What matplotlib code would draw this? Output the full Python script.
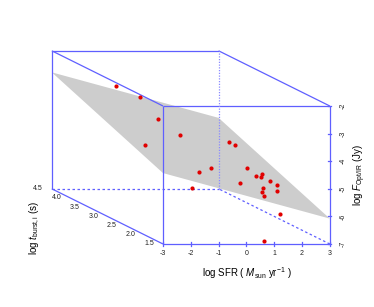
import numpy as np
import matplotlib.pyplot as plt

plt.rcParams['font.family'] = ['Liberation Sans', 'DejaVu Sans']
plt.rcParams['mathtext.fontset'] = 'custom'
plt.rcParams['mathtext.rm'] = 'Liberation Sans'
plt.rcParams['mathtext.it'] = 'Liberation Sans:italic'

# data points: log SFR, log t_burst,i, log F
log_sfr = [-1.09, -0.37, -0.11, -2.30, 0.01, -1.05, -0.21, 2.17, 2.26, 1.62, -1.84, 0.45,
           1.69, 2.03, 1.71, 2.04, 2.18, 1.26, 1.08, 1.76, 0.91, 1.47, 0.76]
log_tburst = [4.2, 4.1, 3.8, 2.5, 3.3, 2.0, 2.3, 3.6, 3.5, 2.7, 1.6, 2.0,
              2.5, 2.6, 2.4, 2.4, 2.3, 2.0, 1.9, 2.0, 1.7, 1.7, 1.6]
log_flux = [-3.06, -3.42, -3.99, -4.09, -4.26, -4.71, -4.78, -4.70, -4.74, -5.05, -5.03, -5.11,
            -5.19, -5.20, -5.18, -5.33, -5.41, -5.30, -5.37, -5.42, -5.41, -6.04, -6.97]

# fitted plane: z = a + b*x + c*y
plane_coef = [-6.08, -0.275, 0.55]

x_ticks = [-3, -2, -1, 0, 1, 2, 3]
y_ticks = [1.5, 2.0, 2.5, 3.0, 3.5, 4.0, 4.5]
z_ticks = [-7, -6, -5, -4, -3, -2]

xmin, xmax = -3, 3
ymin, ymax = 1.5, 4.5
zmin, zmax = -7, -2

box_col = '#5f5fff'


def proj(x, y, z):
    # oblique projection like scatterplot3d
    d = np.asarray(y, dtype=float) - ymin
    return np.asarray(x, dtype=float) - d * 4 / 3, np.asarray(z, dtype=float) + d * 2 / 3


def edge(p0, p1, ls='-', lw=0.9, col=box_col):
    u, v = proj([p0[0], p1[0]], [p0[1], p1[1]], [p0[2], p1[2]])
    ax.plot(u, v, color=col, lw=lw, ls=ls, zorder=3, solid_capstyle='butt')


fig = plt.figure(figsize=(3.74, 3.07), dpi=100)
ax = fig.add_axes([0, 0, 1, 1])
ax.set_xlim(-8.863, 4.590)
ax.set_ylim(-9.283, 1.841)
ax.axis('off')

# regression plane
a, b, c = plane_coef
px = [xmin, xmax, xmax, xmin]
py = [ymin, ymin, ymax, ymax]
pz = [a + b * xx + c * yy for xx, yy in zip(px, py)]
pu, pv = proj(px, py, pz)
ax.fill(pu, pv, color='#cdcdcd', lw=0, zorder=1)

# box
edge((xmin, ymin, zmin), (xmax, ymin, zmin))
edge((xmax, ymin, zmin), (xmax, ymin, zmax))
edge((xmin, ymin, zmax), (xmax, ymin, zmax))
edge((xmin, ymin, zmin), (xmin, ymin, zmax))
edge((xmin, ymax, zmax), (xmax, ymax, zmax))
edge((xmin, ymax, zmin), (xmin, ymax, zmax))
edge((xmin, ymin, zmax), (xmin, ymax, zmax))
edge((xmax, ymin, zmax), (xmax, ymax, zmax))
edge((xmin, ymin, zmin), (xmin, ymax, zmin))
edge((xmin, ymax, zmin), (xmax, ymax, zmin), ls=(0, (2, 2)))
edge((xmax, ymax, zmin), (xmax, ymax, zmax), ls=(0, (1, 1.2)), col='#8a8aff')
edge((xmax, ymin, zmin), (xmax, ymax, zmin), ls=(0, (2, 2)))

# x axis ticks + labels
for t in x_ticks:
    u, v = proj(t, ymin, zmin)
    ax.plot([u, u], [v - 0.06, v + 0.06], color=box_col, lw=0.9, zorder=3)
    ax.text(u, v - 0.36, str(t), ha='center', va='center', fontsize=5, color='#222222')

# z axis ticks + labels
for t in z_ticks:
    u, v = proj(xmax, ymin, t)
    ax.plot([u - 0.06, u + 0.06], [v, v], color=box_col, lw=0.9, zorder=3)
    ax.text(u + 0.475, v, str(t), ha='center', va='center', fontsize=5,
            rotation=90, color='#222222')

# y axis labels
for t in y_ticks:
    u, v = proj(xmin, t, zmin)
    ax.text(u - 0.5, v, '%.1f' % t, ha='center', va='center', fontsize=5, color='#222222')

# points
pu, pv = proj(log_sfr, log_tburst, log_flux)
ax.scatter(pu, pv, s=9, c='#e00000', linewidths=0, zorder=5)

ax.text(0.0, -8.05, r'log SFR ( $M_{\mathrm{sun}}$ yr$^{-1}$ )', ha='center', va='center', fontsize=7)
ax.text(4.09, -4.5, r'log $F_{\mathrm{Opt/IR}}$ (Jy)', ha='center', va='center', fontsize=7, rotation=90)
ax.text(-7.6, -6.42, r'log $t_{\mathrm{burst,i}}$ (s)', ha='center', va='center', fontsize=7, rotation=90)

fig.savefig('out.png', dpi=100)
